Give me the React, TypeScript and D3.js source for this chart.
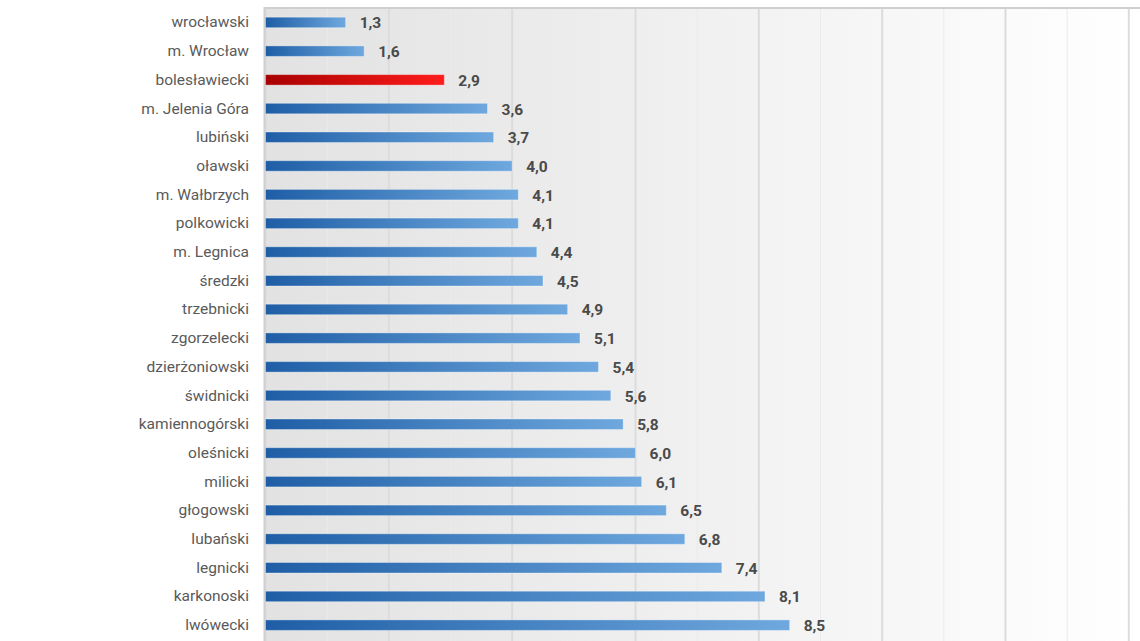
import React from "react";
import * as d3 from "d3";

const categories = [
  "wrocławski", "m. Wrocław", "bolesławiecki", "m. Jelenia Góra", "lubiński", "oławski",
  "m. Wałbrzych", "polkowicki", "m. Legnica", "średzki", "trzebnicki", "zgorzelecki",
  "dzierżoniowski", "świdnicki", "kamiennogórski", "oleśnicki", "milicki", "głogowski",
  "lubański", "legnicki", "karkonoski", "lwówecki",
];
const values = [1.3, 1.6, 2.9, 3.6, 3.7, 4.0, 4.1, 4.1, 4.4, 4.5, 4.9, 5.1, 5.4, 5.6, 5.8, 6.0, 6.1, 6.5, 6.8, 7.4, 8.1, 8.5];
const highlight = "bolesławiecki";
const gridTicks = d3.range(0, 15, 1);

const W = 1140;
const H = 641;

export default function App() {
  const x = d3.scaleLinear().domain([0, 14]).range([265.5, 1128.8]);
  const y = d3
    .scaleBand<string>()
    .domain(categories)
    .range([8.1, 8.1 + 28.7 * categories.length]);
  const bh = 10.5;
  const fmt = (v: number) => v.toFixed(1).replace(".", ",");
  return (
    <svg width={W} height={H} style={{ position: "absolute", left: 0, top: 0, background: "#fff" }}>
      <defs>
        <linearGradient id="bg" x1="0" x2="1" y1="0" y2="0">
          <stop offset="0" stopColor="#e2e2e2" />
          <stop offset="1" stopColor="#ffffff" />
        </linearGradient>
        <linearGradient id="blue" x1="0" x2="1" y1="0" y2="0">
          <stop offset="0" stopColor="#1f5ea6" />
          <stop offset="1" stopColor="#6ea8de" />
        </linearGradient>
        <linearGradient id="red" x1="0" x2="1" y1="0" y2="0">
          <stop offset="0" stopColor="#a80000" />
          <stop offset="1" stopColor="#ff1c1c" />
        </linearGradient>
      </defs>
      <rect x={265} y={8} width={W - 265} height={H - 8} fill="url(#bg)" />
      {gridTicks.map((t) => (
        <line
          key={t}
          x1={x(t)}
          x2={x(t)}
          y1={8}
          y2={H}
          stroke={t % 2 === 0 ? "#dcdcdc" : "#ebebeb"}
          strokeWidth={t % 2 === 0 ? 2 : 1}
        />
      ))}
      <line x1={264.5} x2={W} y1={8} y2={8} stroke="#cfcfcf" strokeWidth={2} />
      <line x1={264.5} x2={264.5} y1={7} y2={H} stroke="#cfcfcf" strokeWidth={2} />
      {categories.map((c, i) => {
        const cy = (y(c) as number) + y.bandwidth() / 2;
        const v = values[i];
        return (
          <g key={c}>
            <rect
              x={x(0)}
              y={cy - bh / 2}
              width={x(v) - x(0)}
              height={bh}
              fill={c === highlight ? "url(#red)" : "url(#blue)"}
              stroke="rgba(255,255,255,0.35)"
              strokeWidth={1}
            />
            <text
              x={249}
              y={cy}
              textAnchor="end"
              dominantBaseline="central"
              fontFamily="Roboto"
              fontSize={15.5}
              fill="#5a5a5a"
            >
              {c}
            </text>
            <text
              x={x(v) + 14}
              y={cy + 1}
              dominantBaseline="central"
              fontFamily="Roboto"
              fontWeight="bold"
              fontSize={15.5}
              fill="#4a4a4a"
            >
              {fmt(v)}
            </text>
          </g>
        );
      })}
    </svg>
  );
}
